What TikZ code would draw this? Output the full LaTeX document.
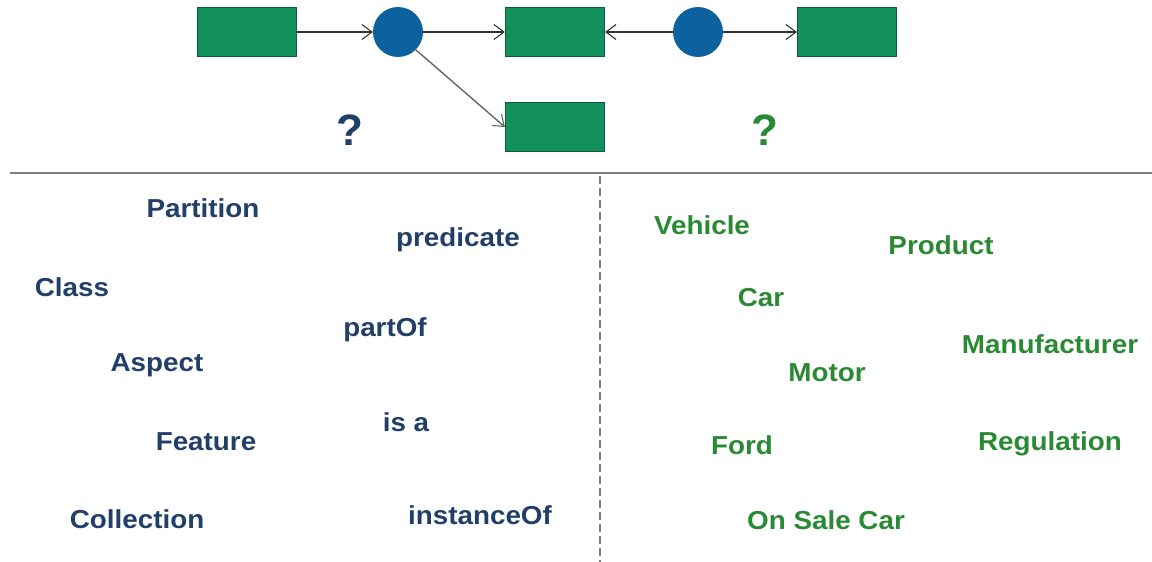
\documentclass[tikz,border=0pt]{standalone}
\usepackage{fontspec}
\setmainfont{Liberation Sans}
\newfontfamily\labelfont[FakeStretch=1.07]{Liberation Sans}
\usetikzlibrary{arrows.meta}
\definecolor{boxgreen}{HTML}{12915C}
\definecolor{boxedge}{HTML}{0E5A3A}
\definecolor{dotblue}{HTML}{0E619F}
\definecolor{txtblue}{HTML}{223F6A}
\definecolor{txtgreen}{HTML}{2A8A34}
\definecolor{rulegrey}{HTML}{7F7F7F}
\tikzset{
  greenbox/.style={draw=boxedge, line width=1.2pt, fill=boxgreen, minimum width=99pt, minimum height=49pt, inner sep=0pt},
  bluedot/.style={circle, fill=dotblue, minimum size=50pt, inner sep=0pt},
  link/.style={line width=1.4pt, draw=black!80, -{Straight Barb[length=10pt,width=15pt,line width=1.1pt]}},
  bluetxt/.style={text=txtblue, font=\labelfont\fontsize{26}{30}\selectfont\bfseries, inner sep=0pt},
  greentxt/.style={text=txtgreen, font=\labelfont\fontsize{26}{30}\selectfont\bfseries, inner sep=0pt},
  qmark/.style={font=\fontsize{44}{50}\selectfont\bfseries, inner sep=0pt}
}
\begin{document}
\begin{tikzpicture}[x=1pt,y=-1pt]
\useasboundingbox (0,0) rectangle (1152,562);
% top graph
\node[greenbox] (r1) at (247,32) {};
\node[bluedot] (c1) at (398,32) {};
\node[greenbox] (r2) at (555,32) {};
\node[bluedot] (c2) at (698,32) {};
\node[greenbox] (r3) at (847,32) {};
\node[greenbox] (r4) at (555,127) {};
\draw[link] (r1) -- (c1);
\draw[link] (c1) -- (r2);
\draw[link] (c2) -- (r2);
\draw[link] (c2) -- (r3);
\draw[link, draw=black!60] (c1.-45) -- (r4.west);
\node[qmark, text=txtblue] (q1) at (350,130) {?};
\node[qmark, text=txtgreen] (q2) at (765,130) {?};
% separators
\coordinate (hl) at (10,173);
\coordinate (hr) at (1152,173);
\draw[rulegrey, line width=2.2pt] (hl) -- (hr);
\coordinate (vt) at (600,176);
\coordinate (vb) at (600,562);
\draw[rulegrey, line width=1.5pt, dash pattern=on 8pt off 4pt] (vt) -- (vb);
% left words
\node[bluetxt] (partition) at (203,208) {Partition};
\node[bluetxt] (predicate) at (458,240) {predicate};
\node[bluetxt] (class) at (72,287) {Class};
\node[bluetxt] (partof) at (385,330) {partOf};
\node[bluetxt] (aspect) at (157,365) {Aspect};
\node[bluetxt] (isa) at (406,422) {is a};
\node[bluetxt] (feature) at (206,442) {Feature};
\node[bluetxt] (collection) at (137,519) {Collection};
\node[bluetxt] (instanceof) at (480,515) {instanceOf};
% right words
\node[greentxt] (vehicle) at (702,225) {Vehicle};
\node[greentxt] (product) at (941,245) {Product};
\node[greentxt] (car) at (761,298) {Car};
\node[greentxt] (manufacturer) at (1050,344) {Manufacturer};
\node[greentxt] (motor) at (827,373) {Motor};
\node[greentxt] (ford) at (742,445) {Ford};
\node[greentxt] (regulation) at (1050,444) {Regulation};
\node[greentxt] (onsale) at (826,520) {On Sale Car};
\end{tikzpicture}
\end{document}
